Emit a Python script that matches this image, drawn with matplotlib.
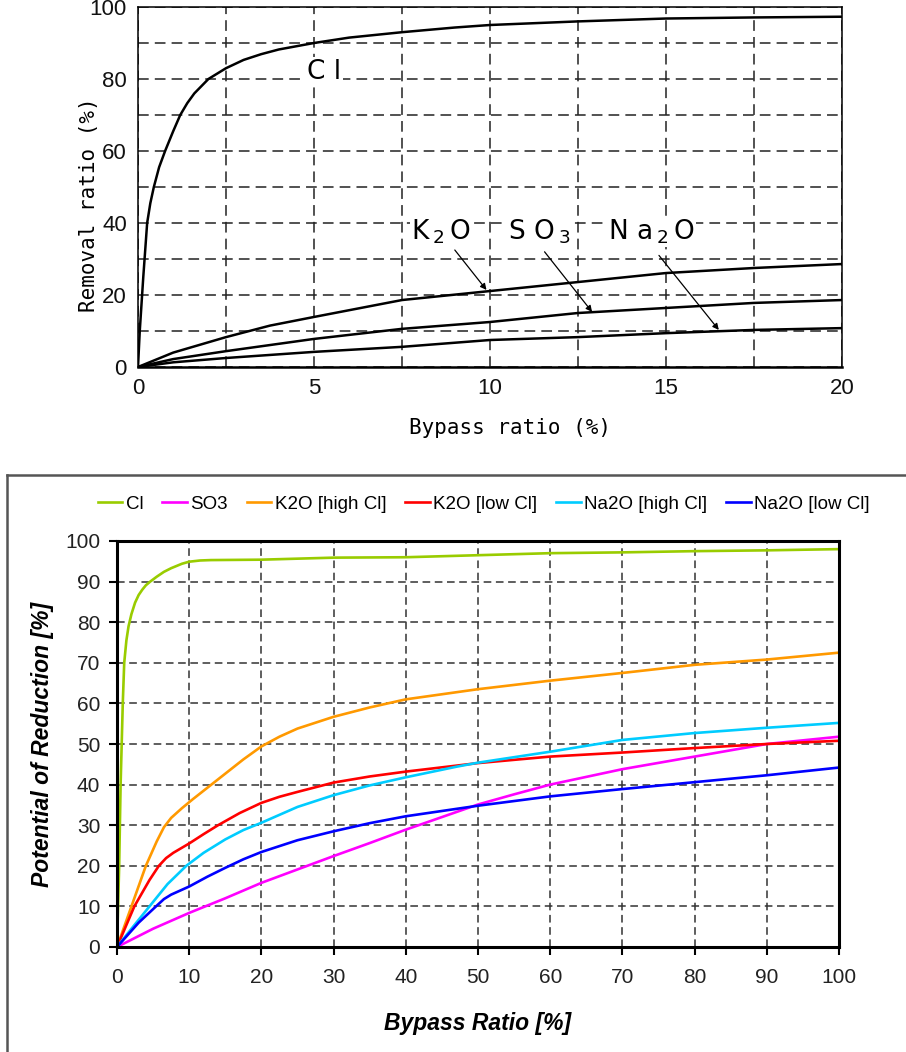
import matplotlib
matplotlib.use("Agg")
import matplotlib.pyplot as plt
from matplotlib.lines import Line2D
from matplotlib.ticker import MultipleLocator

# ---------------- top chart data (bypass ratio 0-20 %) ----------------
top_cl_x = [0, 0.05, 0.15, 0.26, 0.35, 0.45, 0.6, 0.77, 1.0, 1.2, 1.4, 1.6, 2.0, 2.5, 3.0, 3.5, 4.0, 5.0, 6.0, 7.5, 9.0, 10.0, 12.5, 15.0, 17.5, 20.0]
top_cl_y = [0, 10, 25, 40, 45.5, 50, 55.5, 60, 65.5, 70, 73.3, 76, 80, 83, 85.3, 86.9, 88.2, 90, 91.5, 93, 94.3, 95, 96, 96.8, 97.1, 97.3]

top_k2o_x = [0, 1.0, 2.5, 3.75, 5.0, 7.5, 10.0, 12.5, 15.0, 17.5, 20.0]
top_k2o_y = [0, 4.0, 8.3, 11.5, 13.9, 18.6, 21.1, 23.6, 26.1, 27.5, 28.6]

top_so3_x = [0, 1.0, 2.5, 5.0, 7.5, 10.0, 12.5, 15.0, 17.5, 20.0]
top_so3_y = [0, 2.2, 4.4, 7.8, 10.6, 12.5, 15.0, 16.4, 17.8, 18.6]

top_na2o_x = [0, 1.0, 2.5, 5.0, 7.5, 10.0, 12.5, 15.0, 17.5, 20.0]
top_na2o_y = [0, 1.3, 2.5, 4.2, 5.6, 7.5, 8.3, 9.4, 10.3, 10.8]

# ---------------- bottom chart data (bypass ratio 0-100 %) ----------------
cl_x = [0, 0.3, 0.5, 0.8, 1.0, 1.3, 1.6, 2.0, 2.5, 3.0, 3.5, 4.0, 4.6, 5.5, 6.5, 7.5, 9.0, 10, 11.5, 13, 20, 30, 40, 50, 60, 70, 80, 90, 100]
cl_y = [0, 20, 40, 60, 70, 75.5, 79, 82, 84.8, 86.7, 88, 89.1, 90, 91.2, 92.4, 93.3, 94.4, 94.9, 95.2, 95.3, 95.4, 95.9, 96, 96.5, 97, 97.2, 97.5, 97.7, 98]

so3_x = [0, 5, 10, 15, 20, 25, 30, 35, 40, 45, 50, 55, 60, 70, 80, 90, 100]
so3_y = [0, 4.5, 8.4, 12, 15.8, 19.1, 22.4, 25.6, 28.9, 32, 35.1, 37.6, 40, 43.8, 46.9, 50, 51.8]

k2o_high_x = [0, 2, 4, 5.5, 6.5, 7.5, 9, 10.5, 12, 15, 17.5, 20, 22.5, 25, 30, 35, 40, 50, 60, 70, 80, 90, 100]
k2o_high_y = [0, 10, 20, 26, 29.5, 31.8, 34.2, 36.4, 38.5, 42.7, 46.2, 49.4, 51.8, 53.8, 56.7, 59, 61, 63.5, 65.6, 67.5, 69.5, 70.8, 72.5]

k2o_low_x = [0, 2.4, 4.5, 5.8, 6.8, 7.8, 10, 12, 14, 17, 20, 22.5, 25, 30, 35, 40, 50, 60, 70, 80, 90, 100]
k2o_low_y = [0, 10, 16.5, 20, 21.9, 23.2, 25.5, 27.8, 30, 33, 35.5, 37, 38.2, 40.5, 42, 43.2, 45.3, 46.9, 47.9, 49, 50, 50.8]

na2o_high_x = [0, 2, 4.5, 7, 9.6, 12, 15, 17.5, 20, 25, 30, 35, 40, 47, 50, 60, 70, 80, 90, 100]
na2o_high_y = [0, 4.5, 10, 15.5, 20, 23.2, 26.5, 28.8, 30.6, 34.5, 37.4, 39.8, 41.8, 44.4, 45.4, 48.1, 51, 52.7, 54, 55.2]

na2o_low_x = [0, 3, 5.4, 6.5, 7.5, 10, 12.5, 15, 17.5, 20, 25, 30, 35, 40, 50, 60, 70, 80, 90, 100]
na2o_low_y = [0, 6, 10, 11.8, 12.9, 14.9, 17.3, 19.5, 21.6, 23.4, 26.3, 28.5, 30.5, 32.2, 34.8, 37.1, 38.9, 40.6, 42.3, 44.2]

legend_labels = ["Cl", "SO3", "K2O [high Cl]", "K2O [low Cl]", "Na2O [high Cl]", "Na2O [low Cl]"]
colors = ["#99CC00", "#FF00FF", "#FF9900", "#FF0000", "#00CCFF", "#0000FF"]

plt.rcParams['font.family'] = ['Liberation Sans', 'DejaVu Sans']
plt.rcParams['mathtext.fontset'] = 'dejavusans'

fig = plt.figure(figsize=(9.06, 10.52), dpi=100)
W, H = 906, 1052

def rect(l, t, r, b):
    return [l / W, 1 - b / H, (r - l) / W, (b - t) / H]

# ====================== TOP CHART ======================
ax1 = fig.add_axes(rect(138, 7, 842, 367))
for xs, ys in [(top_cl_x, top_cl_y), (top_k2o_x, top_k2o_y), (top_so3_x, top_so3_y), (top_na2o_x, top_na2o_y)]:
    ax1.plot(xs, ys, color="black", lw=1.8, solid_joinstyle='round')
ax1.set_xlim(0, 20)
ax1.set_ylim(0, 100)
ax1.xaxis.set_major_locator(MultipleLocator(5))
ax1.xaxis.set_minor_locator(MultipleLocator(2.5))
ax1.yaxis.set_major_locator(MultipleLocator(20))
ax1.yaxis.set_minor_locator(MultipleLocator(10))
ax1.grid(which='both', linestyle=(0, (7, 4)), color='#222222', lw=1.1)
ax1.tick_params(which='both', length=0, labelsize=16, pad=8, colors='#111111')
for s in ['left', 'top', 'right']:
    ax1.spines[s].set_linewidth(1.1)
ax1.spines['bottom'].set_linewidth(1.8)
ax1.set_axisbelow(True)
ax1.set_ylabel("Removal ratio (%)", family='DejaVu Sans Mono', fontsize=15)
ax1.yaxis.set_label_coords((99 - 138) / 704, (367 - 205) / 360)
ax1.set_xlabel("Bypass ratio (%)", family='DejaVu Sans Mono', fontsize=15)
ax1.xaxis.set_label_coords((510 - 138) / 704, -(418 - 367) / 360)

tfs = 19
ax1.text(5.3, 82, "C l", fontsize=tfs, family='DejaVu Sans', ha='center', va='center',
         bbox=dict(facecolor='white', edgecolor='none', pad=1))
ax1.text(8.6, 37.5, r"K$\,_{2}\,$O", fontsize=tfs, family='DejaVu Sans', ha='center', va='center',
         bbox=dict(facecolor='white', edgecolor='none', pad=0.5))
ax1.text(11.4, 37.5, r"S O$\,_{3}$", fontsize=tfs, family='DejaVu Sans', ha='center', va='center',
         bbox=dict(facecolor='white', edgecolor='none', pad=0.5))
ax1.text(14.6, 37.5, r"N a$\,_{2}\,$O", fontsize=tfs, family='DejaVu Sans', ha='center', va='center',
         bbox=dict(facecolor='white', edgecolor='none', pad=0.5))
arrow = dict(arrowstyle='-|>', lw=0.9, color='black', mutation_scale=9, shrinkA=0, shrinkB=0)
ax1.annotate("", xy=(9.9, 21.4), xytext=(9.0, 32.5), arrowprops=arrow)
ax1.annotate("", xy=(12.9, 15.3), xytext=(11.55, 32.0), arrowprops=arrow)
ax1.annotate("", xy=(16.5, 10.3), xytext=(14.8, 31.0), arrowprops=arrow)

# ====================== BOTTOM CHART ======================
fig.add_artist(Line2D([7 / W, 7 / W], [0, 1 - 475 / H], color='#555555', lw=1.8, transform=fig.transFigure))
fig.add_artist(Line2D([7 / W, 1], [1 - 475 / H, 1 - 475 / H], color='#555555', lw=1.8, transform=fig.transFigure))

ax2 = fig.add_axes(rect(117, 541, 839, 947))
series = [(cl_x, cl_y), (so3_x, so3_y), (k2o_high_x, k2o_high_y), (k2o_low_x, k2o_low_y),
          (na2o_high_x, na2o_high_y), (na2o_low_x, na2o_low_y)]
handles = []
for (xs, ys), c, lab in zip(series, colors, legend_labels):
    h, = ax2.plot(xs, ys, color=c, lw=1.9, label=lab, solid_joinstyle='round')
    handles.append(h)
ax2.set_xlim(0, 100)
ax2.set_ylim(0, 100)
ax2.xaxis.set_major_locator(MultipleLocator(10))
ax2.yaxis.set_major_locator(MultipleLocator(10))
ax2.grid(which='major', linestyle=(0, (5, 3)), color='#333333', lw=1.1)
ax2.set_axisbelow(True)
ax2.tick_params(length=6, width=1.5, direction='out', labelsize=15, colors='black',
                labelcolor='#222222', pad=6)
ax2.tick_params(axis='x', pad=9)
for s in ax2.spines.values():
    s.set_linewidth(2.2)
ax2.set_xlabel("Bypass Ratio [%]", fontsize=16.5, fontweight='bold', fontstyle='italic', labelpad=18)
ax2.set_ylabel("Potential of Reduction [%]", fontsize=16.5, fontweight='bold', fontstyle='italic', labelpad=8)

fig.legend(handles=handles, labels=legend_labels, loc='center', bbox_to_anchor=(484 / W, 1 - 504 / H),
           ncol=6, frameon=False, fontsize=13.5, handlelength=1.3, handletextpad=0.2,
           columnspacing=1.0, borderaxespad=0)

fig.savefig("out.png", dpi=100)
